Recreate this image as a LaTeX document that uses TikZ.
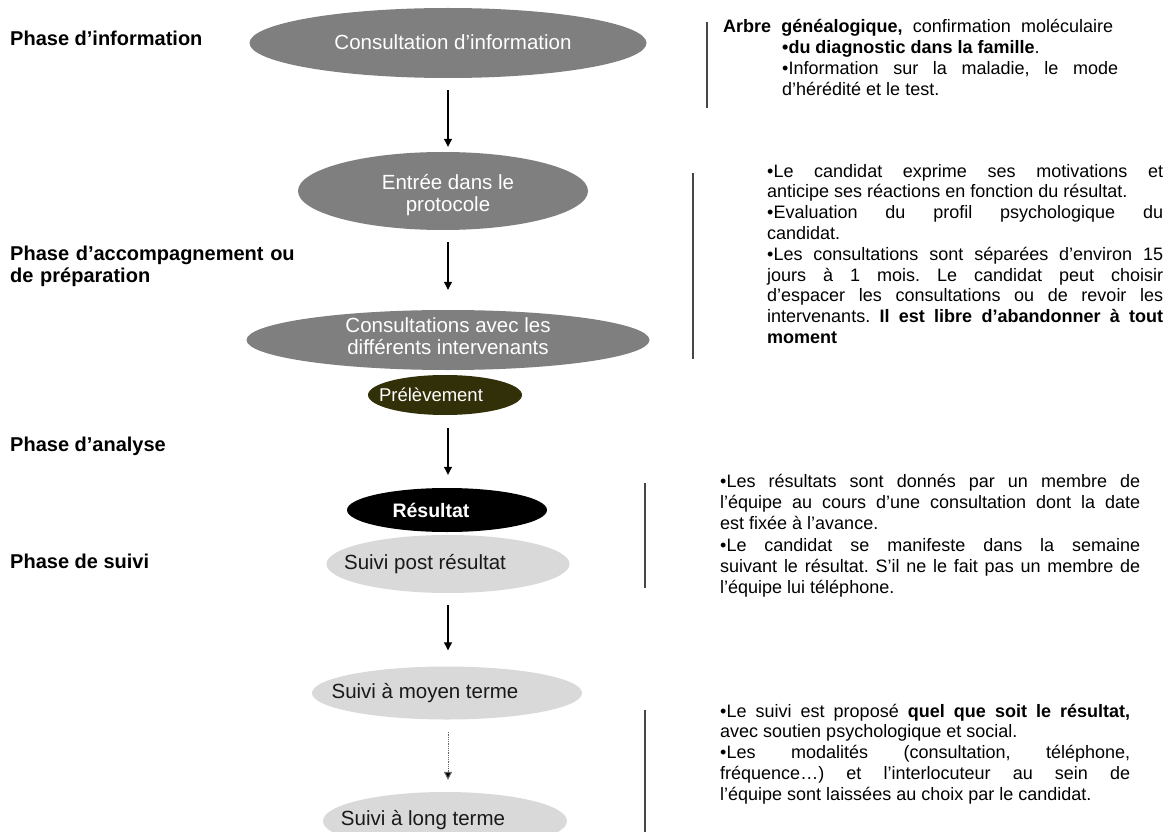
\documentclass[tikz,border=0pt]{standalone}
\usepackage{fontspec}
\setmainfont{Liberation Sans}
\usetikzlibrary{shapes.geometric,arrows.meta}
\setlength{\parindent}{0pt}
\setlength{\parskip}{0pt}
\frenchspacing
\definecolor{ellgray}{RGB}{127,127,127}
\definecolor{elllight}{RGB}{217,217,217}
\definecolor{prelev}{RGB}{50,48,8}
\definecolor{sepline}{RGB}{70,70,70}
\newcommand{\bodyfont}[1]{\fontsize{18}{#1}\selectfont\frenchspacing\parskip=0pt\parindent=0pt}
\begin{document}
\begin{tikzpicture}[x=1pt,y=-1pt,
  ell/.style={ellipse, inner sep=0pt, draw=none},
  lbl/.style={font=\fontsize{20.5}{22.5}\selectfont, align=center, inner sep=0pt},
  phase/.style={font=\bfseries\fontsize{20}{22}\selectfont, anchor=base west, inner sep=0pt},
  body/.style={font=\bodyfont{20.8}, anchor=north west, inner sep=0pt, align=justify},
  flow/.style={draw=black, line width=1.1pt, -{Triangle[width=8pt,length=8pt]}},
  flowdot/.style={draw=black!60, line width=1pt, dash pattern=on 1pt off 0.8pt, -{Triangle[width=8pt,length=8pt,fill=black]}},
  sep/.style={draw=sepline, line width=1.5pt}
]
\useasboundingbox (0,0) rectangle (1170,832);
\fill[white] (0,0) rectangle (1170,832);
\clip (0,0) rectangle (1170,832);

% left phase labels
\node[phase] (p1) at (10,45.7) {Phase d’information};
\node[phase, anchor=north west, text width=320pt, align=left] (p2) at (10,245.3) {\strut Phase d’accompagnement ou\\de préparation};
\node[phase] (p3) at (10,451) {Phase d’analyse};
\node[phase] (p4) at (10,568) {Phase de suivi};

% flow ellipses
\node[ell, fill=ellgray, minimum width=397pt, minimum height=70pt,
  label={[lbl, text=white, xshift=5pt, yshift=1pt]center:Consultation d’information}] (n1) at (448,43) {};
\node[ell, fill=ellgray, minimum width=290pt, minimum height=78pt,
  label={[lbl, text=white, xshift=5pt, yshift=-4pt]center:Entrée dans le\\protocole}] (n2) at (443,191) {};
\node[ell, fill=ellgray, minimum width=403pt, minimum height=60pt,
  label={[lbl, text=white, yshift=4pt]center:Consultations avec les\\différents intervenants}] (n3) at (448,340) {};
\node[ell, fill=prelev, minimum width=154pt, minimum height=40pt,
  label={[lbl, font=\fontsize{18.5}{20}\selectfont, text=white, xshift=-14pt]center:Prélèvement}] (n4) at (445,395) {};
\node[ell, fill=black, minimum width=200pt, minimum height=44pt,
  label={[lbl, font=\bfseries\fontsize{19.5}{21}\selectfont, text=white, xshift=-16pt]center:Résultat}] (n5) at (447,510) {};
\node[ell, fill=elllight, minimum width=243pt, minimum height=58pt,
  label={[lbl, text=black!90, xshift=-23pt]center:Suivi post résultat}] (n6) at (448,564) {};
\node[ell, fill=elllight, minimum width=270pt, minimum height=53pt,
  label={[lbl, text=black!90, xshift=-22pt]center:Suivi à moyen terme}] (n7) at (447,693) {};
\node[ell, fill=elllight, minimum width=244pt, minimum height=58pt,
  label={[lbl, text=black!90, xshift=-22pt, yshift=1pt]center:Suivi à long terme}] (n8) at (445,821) {};

% connectors
\draw[flow, shorten <=12pt, shorten >=5pt] (n1.south) -- (n2.north -| n1.center);
\draw[flow, shorten <=12pt, shorten >=20pt] (n2.south -| n1.center) -- (n3.north -| n1.center);
\draw[flow, shorten <=13pt, shorten >=13pt] (n4.south -| n1.center) -- (n5.north -| n1.center);
\draw[flow, shorten <=12pt, shorten >=16pt] (n6.south -| n1.center) -- (n7.north -| n1.center);
\draw[flowdot, shorten <=12pt, shorten >=12pt] (n7.south -| n1.center) -- (n8.north -| n1.center);

% separators
\draw[sep] (707,22) -- (707,108);
\draw[sep] (693,173) -- (693,359);
\draw[sep] (645,483) -- (645,588);
\draw[sep] (645,710) -- (645,832);

% right texts
\node[font=\bodyfont{20.8}, anchor=base west, inner sep=0pt] (t1a) at (723,32.5)
  {\makebox[390pt][s]{\textbf{Arbre généalogique,} confirmation moléculaire}};
\node[body, text width=336pt] (t1b) at (782,38.7)
  {\strut\textbf{•du diagnostic dans la famille}.\par
   •Information sur la maladie, le mode\linebreak d’hérédité et le test.};

\node[body, text width=396pt] (t2) at (767,162.4)
  {\strut•Le candidat exprime ses motivations et\linebreak
   anticipe ses réactions en fonction du résultat.\par
   •Evaluation du profil psychologique du\linebreak
   candidat.\par
   •Les consultations sont séparées d’environ 15\linebreak
   jours à 1 mois. Le candidat peut choisir\linebreak
   d’espacer les consultations ou de revoir les\linebreak
   intervenants. \textbf{Il est libre d’abandonner à tout}\linebreak
   \textbf{moment}};

\node[body, font=\bodyfont{21.3}, text width=420pt] (t3) at (720,472)
  {\strut•Les résultats sont donnés par un membre de\linebreak
   l’équipe au cours d’une consultation dont la date\linebreak
   est fixée à l’avance.\par
   •Le candidat se manifeste dans la semaine\linebreak
   suivant le résultat. S’il ne le fait pas un membre de\linebreak
   l’équipe lui téléphone.};

\node[body, text width=410pt] (t4) at (720,702.4)
  {\strut•Le suivi est proposé \textbf{quel que soit le résultat,}\linebreak
   avec soutien psychologique et social.\par
   •Les modalités (consultation, téléphone,\linebreak
   fréquence…) et l’interlocuteur au sein de\linebreak
   l’équipe sont laissées au choix par le candidat.};
\end{tikzpicture}
\end{document}
